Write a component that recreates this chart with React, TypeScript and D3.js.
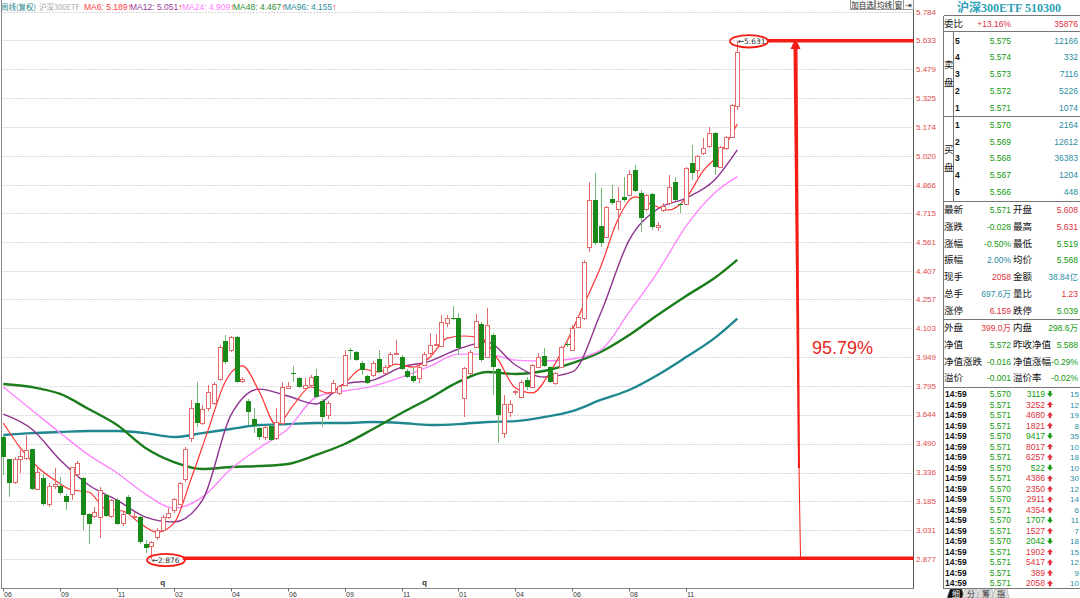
import React, { useRef, useEffect } from 'react';
import * as d3 from 'd3';

// ─── weekly bars (oldest first) ───────────────────────────────────────────────
const OPEN = [
    3.525, 3.408, 3.286, 3.408, 3.414, 3.461, 3.249, 3.307, 3.169, 3.265,
    3.265, 3.212, 3.222, 3.329, 3.307, 3.116, 3.106, 3.100, 3.217, 3.106,
    3.190, 3.068, 3.206, 3.100, 3.100, 2.957, 2.946, 2.994, 3.031, 3.100,
    3.137, 3.169, 3.302, 3.520, 3.706, 3.600, 3.679, 3.706, 3.833, 4.035,
    3.987, 4.057, 3.823, 3.717, 3.621, 3.573, 3.525, 3.584, 3.520, 3.600,
    3.786, 3.865, 3.839, 3.786, 3.802, 3.849, 3.717, 3.642, 3.764, 3.759,
    3.802, 3.987, 3.977, 3.918, 3.849, 3.855, 3.940, 3.865, 3.908, 3.966,
    3.950, 3.876, 3.849, 3.839, 3.908, 3.972, 4.014, 4.009, 4.131, 4.158,
    4.158, 3.733, 3.865, 4.004, 4.126, 3.950, 4.067, 3.887, 3.547, 3.658,
    3.764, 3.738, 3.828, 3.791, 3.897, 3.956, 3.897, 3.812, 3.897, 4.019,
    3.987, 4.110, 4.158, 4.535, 4.785, 4.646, 4.588, 4.790, 4.737, 4.801,
    4.811, 4.944, 4.822, 4.737, 4.817, 4.641, 4.732, 4.769, 4.880, 4.763,
    4.763, 4.981, 4.944, 5.034, 5.072, 5.141, 4.960, 5.061, 5.120, 5.284,
];
const HIGH = [
    3.531, 3.410, 3.419, 3.456, 3.536, 3.464, 3.366, 3.329, 3.281, 3.361,
    3.313, 3.222, 3.368, 3.398, 3.313, 3.121, 3.153, 3.260, 3.222, 3.196,
    3.201, 3.127, 3.217, 3.127, 3.106, 2.978, 2.973, 3.042, 3.111, 3.148,
    3.201, 3.286, 3.472, 3.722, 3.818, 3.695, 3.802, 3.818, 4.014, 4.067,
    4.062, 4.060, 3.844, 3.727, 3.679, 3.578, 3.584, 3.589, 3.679, 3.818,
    3.818, 3.903, 3.844, 3.839, 3.855, 3.887, 3.727, 3.717, 3.828, 3.802,
    3.987, 3.998, 3.982, 3.929, 3.855, 3.929, 3.987, 3.908, 3.977, 4.041,
    3.961, 3.887, 3.897, 3.908, 3.977, 4.078, 4.073, 4.173, 4.173, 4.221,
    4.184, 3.895, 3.987, 4.179, 4.136, 4.211, 4.078, 3.890, 3.748, 3.722,
    3.775, 3.828, 3.844, 3.913, 3.972, 3.998, 3.903, 3.871, 4.009, 4.030,
    4.120, 4.168, 4.466, 4.880, 4.928, 4.848, 4.753, 4.864, 4.854, 4.907,
    4.944, 4.971, 4.838, 4.817, 4.820, 4.668, 4.769, 4.918, 4.907, 4.769,
    4.960, 5.077, 5.024, 5.114, 5.173, 5.144, 5.072, 5.125, 5.295, 5.631,
];
const LOW = [
    3.323, 3.206, 3.276, 3.334, 3.403, 3.244, 3.242, 3.159, 3.153, 3.249,
    3.217, 3.137, 3.190, 3.313, 3.031, 2.957, 3.095, 2.989, 3.100, 3.095,
    3.058, 3.052, 3.111, 3.095, 2.957, 2.909, 2.876, 2.978, 3.020, 3.090,
    3.121, 3.164, 3.286, 3.499, 3.578, 3.589, 3.663, 3.695, 3.823, 3.913,
    3.977, 3.812, 3.812, 3.589, 3.547, 3.509, 3.509, 3.504, 3.509, 3.589,
    3.780, 3.818, 3.786, 3.780, 3.791, 3.733, 3.578, 3.621, 3.754, 3.748,
    3.796, 3.934, 3.929, 3.855, 3.807, 3.844, 3.865, 3.860, 3.902, 3.961,
    3.881, 3.839, 3.812, 3.812, 3.902, 3.961, 4.009, 4.004, 4.110, 4.147,
    3.961, 3.632, 3.855, 3.998, 3.924, 3.945, 3.748, 3.493, 3.520, 3.632,
    3.748, 3.733, 3.775, 3.786, 3.892, 3.897, 3.812, 3.802, 3.892, 4.004,
    3.982, 4.105, 4.147, 4.508, 4.546, 4.535, 4.583, 4.758, 4.625, 4.774,
    4.806, 4.827, 4.615, 4.726, 4.625, 4.620, 4.721, 4.758, 4.779, 4.716,
    4.758, 4.891, 4.902, 5.024, 5.061, 4.918, 4.955, 5.050, 5.114, 5.263,
];
const CLOSE = [
    3.419, 3.281, 3.408, 3.424, 3.456, 3.249, 3.339, 3.169, 3.265, 3.276,
    3.228, 3.180, 3.366, 3.387, 3.111, 3.063, 3.127, 3.244, 3.106, 3.190,
    3.063, 3.116, 3.116, 3.106, 2.967, 2.935, 2.967, 3.031, 3.100, 3.121,
    3.196, 3.281, 3.461, 3.679, 3.600, 3.674, 3.764, 3.807, 4.004, 3.924,
    4.057, 3.818, 3.833, 3.658, 3.584, 3.525, 3.578, 3.509, 3.605, 3.791,
    3.796, 3.860, 3.791, 3.802, 3.844, 3.738, 3.632, 3.706, 3.812, 3.796,
    3.961, 3.982, 3.934, 3.881, 3.812, 3.918, 3.871, 3.897, 3.966, 3.972,
    3.887, 3.844, 3.823, 3.897, 3.966, 4.014, 4.019, 4.136, 4.158, 4.152,
    3.998, 3.892, 3.977, 4.142, 3.934, 4.120, 3.897, 3.642, 3.701, 3.701,
    3.770, 3.818, 3.791, 3.908, 3.950, 3.903, 3.818, 3.865, 4.004, 4.014,
    4.105, 4.163, 4.455, 4.785, 4.556, 4.556, 4.747, 4.769, 4.779, 4.785,
    4.923, 4.833, 4.689, 4.811, 4.641, 4.652, 4.753, 4.854, 4.785, 4.758,
    4.955, 4.928, 5.018, 5.061, 5.141, 4.960, 5.066, 5.120, 5.290, 5.571,
];

// moving averages at the listed weeks
const MA_WEEKS = [0, 5, 10, 15, 20, 25, 30, 35, 40, 45, 50, 55, 60, 65, 70, 75, 80, 85, 90, 95, 100, 105, 110, 115, 120, 125, 129];
const MA12 = [3.647, 3.568, 3.403, 3.270, 3.190, 3.100, 3.074, 3.190, 3.642, 3.780, 3.743, 3.701, 3.807, 3.828, 3.897, 3.929, 3.993, 4.030, 3.908, 3.844, 3.871, 4.184, 4.572, 4.737, 4.795, 4.891, 5.051];
const MA24 = [3.791, 3.669, 3.547, 3.430, 3.334, 3.222, 3.148, 3.206, 3.355, 3.467, 3.568, 3.738, 3.770, 3.796, 3.844, 3.902, 3.966, 3.966, 3.934, 3.929, 3.940, 3.987, 4.190, 4.402, 4.646, 4.822, 4.909];
const MA48 = [3.807, 3.791, 3.754, 3.674, 3.589, 3.467, 3.392, 3.355, 3.366, 3.371, 3.382, 3.430, 3.488, 3.568, 3.653, 3.733, 3.818, 3.871, 3.860, 3.876, 3.918, 3.977, 4.067, 4.174, 4.275, 4.370, 4.467];
const MA96 = [3.536, 3.546, 3.552, 3.557, 3.557, 3.546, 3.525, 3.546, 3.568, 3.589, 3.594, 3.600, 3.600, 3.605, 3.600, 3.589, 3.594, 3.605, 3.610, 3.631, 3.663, 3.722, 3.775, 3.855, 3.950, 4.051, 4.155];
const MA6_WEEKS = [0, 3, 6, 9, 12, 15, 18, 21, 24, 27, 30, 33, 36, 39, 42, 45, 48, 51, 54, 57, 60, 63, 66, 69, 72, 75, 78, 81, 84, 87, 90, 93, 96, 99, 102, 105, 108, 111, 114, 117, 120, 123, 126, 129];
const MA6 = [3.600, 3.467, 3.366, 3.297, 3.244, 3.233, 3.143, 3.132, 3.068, 3.020, 3.068, 3.302, 3.562, 3.818, 3.903, 3.766, 3.589, 3.695, 3.791, 3.759, 3.812, 3.887, 3.871, 3.913, 3.897, 3.950, 4.051, 4.062, 4.051, 3.935, 3.786, 3.760, 3.865, 4.030, 4.227, 4.430, 4.680, 4.801, 4.760, 4.732, 4.795, 4.940, 5.034, 5.189];

const Y_TICKS = [2.877, 3.031, 3.185, 3.336, 3.490, 3.644, 3.795, 3.949, 4.103, 4.257, 4.407, 4.561, 4.715, 4.866, 5.020, 5.174, 5.325, 5.479, 5.633, 5.784];
const X_TICK_WEEKS = [0, 10, 20, 30, 40, 50, 60, 70, 80, 90, 100, 110, 120];
const X_TICK_LABELS = ['06', '09', '11', '02', '04', '06', '09', '11', '01', '04', '06', '08', '11'];
const Q_WEEKS = [28, 74];

// ─── quote panel ──────────────────────────────────────────────────────────────
const SELL_LEVELS = ['5', '4', '3', '2', '1'];
const SELL_PRICES = ['5.575', '5.574', '5.573', '5.572', '5.571'];
const SELL_VOLUMES = ['12166', '332', '7116', '5226', '1074'];
const BUY_LEVELS = ['1', '2', '3', '4', '5'];
const BUY_PRICES = ['5.570', '5.569', '5.568', '5.567', '5.566'];
const BUY_VOLUMES = ['2164', '12612', '36383', '1204', '448'];

const QUOTE_LEFT = ['最新', '涨跌', '涨幅', '振幅', '现手', '总手', '涨停'];
const QUOTE_LEFT_VALUES = ['5.571', '-0.028', '-0.50%', '2.00%', '2058', '697.6万', '6.159'];
const QUOTE_LEFT_TONES = ['g', 'g', 'g', 't', 'r', 't', 'r'];
const QUOTE_RIGHT = ['开盘', '最高', '最低', '均价', '金额', '量比', '跌停'];
const QUOTE_RIGHT_VALUES = ['5.608', '5.631', '5.519', '5.568', '38.84亿', '1.23', '5.039'];
const QUOTE_RIGHT_TONES = ['r', 'r', 'g', 'g', 't', 'r', 'g'];

const NAV_LEFT = ['外盘', '净值', '净值涨跌', '溢价'];
const NAV_LEFT_VALUES = ['399.0万', '5.572', '-0.016', '-0.001'];
const NAV_LEFT_TONES = ['r', 'g', 'g', 'g'];
const NAV_RIGHT = ['内盘', '昨收净值', '净值涨幅', '溢价率'];
const NAV_RIGHT_VALUES = ['298.6万', '5.588', '-0.29%', '-0.02%'];
const NAV_RIGHT_TONES = ['g', 'g', 'g', 'g'];

const TRADE_TIME = '14:59';
const TRADE_PRICES = ['5.570', '5.571', '5.571', '5.571', '5.570', '5.571', '5.571', '5.570', '5.571', '5.570', '5.570', '5.571', '5.570', '5.571', '5.570', '5.571', '5.571', '5.571', '5.571'];
const TRADE_VOLUMES = ['3119', '3252', '4680', '1821', '9417', '8017', '6257', '522', '4386', '2350', '2911', '4354', '1707', '1527', '2042', '1902', '5417', '389', '2058'];
const TRADE_SIDES = ['S', 'B', 'B', 'B', 'S', 'B', 'B', 'S', 'B', 'B', 'B', 'B', 'S', 'B', 'S', 'B', 'B', 'B', 'B'];
const TRADE_COUNTS = ['15', '12', '19', '8', '35', '10', '18', '10', '30', '12', '14', '6', '11', '7', '18', '15', '12', '9', '10'];

const LEGEND = [
    { text: 'MA6: 5.189', color: '#ff3c3c' },
    { text: 'MA12: 5.051', color: '#9a3c9a' },
    { text: 'MA24: 4.909', color: '#ff80ff' },
    { text: 'MA48: 4.467', color: '#2e8b2e' },
    { text: 'MA96: 4.155', color: '#2a8f9a' },
];

const NUM = '"Liberation Sans", Arial, "Noto Sans CJK SC", sans-serif';
const CJK = '"Noto Sans CJK SC", sans-serif';
const TONE: Record<string, string> = { g: '#109a10', r: '#e0303c', t: '#2a8ea0', k: '#111' };

const App: React.FC = () => {
    const ref = useRef<SVGSVGElement | null>(null);

    useEffect(() => {
        if (!ref.current) return;

        // ─── 1. Clean-slate ──────────────────────────────────────────────────
        const svg = d3.select(ref.current);
        svg.selectAll('*').remove();

        const W = 1080;
        const H = 598;
        const plotL = 1.5;
        const plotR = 913.5;
        const baseY = 588.5;

        svg.append('rect').attr('width', W).attr('height', H).attr('fill', '#fff');

        // ─── 2. Scales ───────────────────────────────────────────────────────
        const x = d3.scalePoint<number>().domain(d3.range(CLOSE.length)).range([3.3, 737.3]);
        const y = d3.scaleLinear().domain([2.877, 5.784]).range([559, 12]);
        const px = (i: number) => Math.round(x(i) as number) + 0.5;

        // ─── 3. Grid + axes ──────────────────────────────────────────────────
        svg.append('g')
            .selectAll('line')
            .data(Y_TICKS)
            .enter()
            .append('line')
            .attr('x1', plotL)
            .attr('x2', plotR)
            .attr('y1', d => Math.round(y(d)) + 0.5)
            .attr('y2', d => Math.round(y(d)) + 0.5)
            .attr('stroke', '#b0b0b0')
            .attr('stroke-dasharray', '1,2');

        svg.append('g')
            .selectAll('text')
            .data(Y_TICKS)
            .enter()
            .append('text')
            .attr('x', 916)
            .attr('y', d => y(d))
            .attr('dy', '0.35em')
            .style('font-size', '8px')
            .style('font-family', NUM)
            .style('fill', '#e04a4a')
            .text(d => d.toFixed(3));

        const frame = svg.append('g').attr('fill', 'none').attr('shape-rendering', 'crispEdges');
        frame.append('line').attr('x1', plotL).attr('x2', plotL).attr('y1', 0).attr('y2', baseY).attr('stroke', '#888');
        frame.append('line').attr('x1', plotR).attr('x2', plotR).attr('y1', 0).attr('y2', baseY).attr('stroke', '#555');
        frame.append('line').attr('x1', plotL).attr('x2', plotR).attr('y1', baseY).attr('y2', baseY).attr('stroke', '#888');

        const xAxis = svg.append('g');
        X_TICK_WEEKS.forEach((w, k) => {
            xAxis.append('line')
                .attr('x1', px(w)).attr('x2', px(w))
                .attr('y1', baseY).attr('y2', baseY + 3)
                .attr('stroke', '#666');
            xAxis.append('text')
                .attr('x', px(w) + 0.5)
                .attr('y', 596.5)
                .style('font-size', '7px')
                .style('font-family', NUM)
                .style('fill', '#333')
                .text(X_TICK_LABELS[k]);
        });
        Q_WEEKS.forEach(w => {
            xAxis.append('text')
                .attr('x', x(w) as number)
                .attr('y', 585)
                .attr('text-anchor', 'middle')
                .style('font-size', '8px')
                .style('font-weight', 700)
                .style('font-family', NUM)
                .style('fill', '#333')
                .text('q');
        });

        // ─── 4. Moving averages ─────────────────────────────────────────────
        const maLine = (weeks: number[], vals: number[]) =>
            d3.line<number>()
                .x((_, k) => x(weeks[k]) as number)
                .y(v => y(v))
                .curve(d3.curveMonotoneX)(vals);

        const mas = [
            { weeks: MA_WEEKS, vals: MA96, color: '#1f8790', w: 2.4 },
            { weeks: MA_WEEKS, vals: MA48, color: '#1b7d1b', w: 2.4 },
            { weeks: MA_WEEKS, vals: MA24, color: '#ff85ff', w: 1.4 },
            { weeks: MA_WEEKS, vals: MA12, color: '#8e3390', w: 1.4 },
            { weeks: MA6_WEEKS, vals: MA6, color: '#ff3434', w: 1.2 },
        ];
        const maG = svg.append('g').attr('fill', 'none');
        mas.forEach(m => {
            maG.append('path')
                .attr('d', maLine(m.weeks, m.vals) as string)
                .attr('stroke', m.color)
                .attr('stroke-width', m.w)
                .attr('stroke-linejoin', 'round');
        });

        // ─── 5. Candles ─────────────────────────────────────────────────────
        const UP = '#e26a6a';
        const DOWN = '#198a19';
        const DOWN_WICK = '#74bb74';
        const candles = svg.append('g').attr('shape-rendering', 'crispEdges');
        CLOSE.forEach((c, i) => {
            const o = OPEN[i];
            const cx = px(i);
            const top = Math.round(y(Math.max(o, c)));
            const bot = Math.max(top + 1, Math.round(y(Math.min(o, c))));
            const hi = Math.round(y(HIGH[i]));
            const lo = Math.round(y(LOW[i]));
            if (c >= o) {
                candles.append('line').attr('x1', cx).attr('x2', cx).attr('y1', hi).attr('y2', top).attr('stroke', UP);
                candles.append('line').attr('x1', cx).attr('x2', cx).attr('y1', bot).attr('y2', lo).attr('stroke', UP);
                candles.append('rect')
                    .attr('x', cx - 2).attr('y', top + 0.5)
                    .attr('width', 4).attr('height', Math.max(0.5, bot - top - 1 + 0.5))
                    .attr('fill', '#fff').attr('stroke', UP);
            } else {
                candles.append('line').attr('x1', cx).attr('x2', cx).attr('y1', hi).attr('y2', lo).attr('stroke', DOWN_WICK);
                candles.append('rect')
                    .attr('x', cx - 2.5).attr('y', top)
                    .attr('width', 5).attr('height', bot - top)
                    .attr('fill', DOWN);
            }
        });

        // ─── 6. Legend + toolbar ────────────────────────────────────────────
        const legend = svg.append('g').style('font-family', NUM).style('font-size', '8.5px');
        legend.append('text').attr('x', 1).attr('y', 10).style('fill', '#2a8a8a').style('font-family', CJK).style('font-size', '7.5px').text('周线(复权)');
        legend.append('text').attr('x', 39).attr('y', 10).style('fill', '#a8a8a8').style('font-family', CJK).style('font-size', '7.5px').text('沪深300ETF');
        const legendX = [84, 130, 182, 233, 284];
        LEGEND.forEach((l, k) => {
            const t = legend.append('text').attr('x', legendX[k]).attr('y', 10);
            t.append('tspan').style('fill', l.color).text(l.text);
            t.append('tspan').style('fill', '#ff2020').text('↑');
        });

        const tools = [
            { x: 850, w: 24, t: '加自选' },
            { x: 875, w: 18, t: '均线' },
            { x: 893, w: 10, t: '窗' },
            { x: 903, w: 10, t: '⇥' },
        ];
        const tb = svg.append('g');
        tools.forEach(b => {
            tb.append('rect').attr('x', b.x + 0.5).attr('y', -0.5).attr('width', b.w).attr('height', 10)
                .attr('fill', '#fafafa').attr('stroke', '#999').attr('shape-rendering', 'crispEdges');
            tb.append('text').attr('x', b.x + 0.5 + b.w / 2).attr('y', 7.8).attr('text-anchor', 'middle')
                .style('font-size', '7.5px').style('font-family', CJK).style('fill', '#222').text(b.t);
        });

        // ─── 7. Range annotation ────────────────────────────────────────────
        const hiV = d3.max(HIGH) as number;
        const loV = d3.min(LOW) as number;
        const iHi = HIGH.indexOf(hiV);
        const iLo = LOW.indexOf(loV);
        const red = '#f41c14';
        const ann = svg.append('g');

        const yHi = y(hiV);
        const yLo = y(loV) - 1;
        ann.append('line').attr('x1', 767).attr('x2', plotR).attr('y1', yHi).attr('y2', yHi).attr('stroke', red).attr('stroke-width', 3.5);
        ann.append('line').attr('x1', 183).attr('x2', plotR).attr('y1', yLo).attr('y2', yLo).attr('stroke', red).attr('stroke-width', 3.5);

        ann.append('path')
            .attr('d', `M793.5,48 L797.5,48 L800,468 L798,468 Z`)
            .attr('fill', red);
        ann.append('path')
            .attr('d', `M795.5,38.5 L790.5,49 L800.5,49 Z`)
            .attr('fill', red);
        ann.append('line').attr('x1', 799).attr('x2', 800.5).attr('y1', 466).attr('y2', yLo).attr('stroke', red).attr('stroke-width', 1);

        ann.append('text')
            .attr('x', 812).attr('y', 354)
            .style('font-size', '18px').style('font-family', NUM).style('fill', '#e8261c')
            .text(`${(((hiV - loV) / loV) * 100).toFixed(2)}%`);

        const marker = (i: number, v: number, cx: number, cy: number) => {
            ann.append('ellipse').attr('cx', cx).attr('cy', cy).attr('rx', 19).attr('ry', 6.2)
                .attr('fill', 'none').attr('stroke', red).attr('stroke-width', 1.8);
            ann.append('text')
                .attr('x', (x(i) as number) + 0.5).attr('y', cy + 2.6)
                .style('font-size', '7.5px').style('font-family', '"DejaVu Sans", sans-serif').style('fill', '#333')
                .text(`←${v.toFixed(3)}`);
        };
        marker(iHi, hiV, 749, yHi + 0.5);
        marker(iLo, loV, 166, 560);

        // ─── 8. Quote panel ─────────────────────────────────────────────────
        const P = svg.append('g');
        const pL = 943.5;
        const hline = (yy: number) =>
            P.append('line').attr('x1', pL).attr('x2', W).attr('y1', yy).attr('y2', yy)
                .attr('stroke', '#777').attr('shape-rendering', 'crispEdges');
        const put = (
            xx: number, yy: number, s: string, color: string,
            anchor = 'start', family = NUM, size = 8.5, weight: number | string = 400
        ) =>
            P.append('text').attr('x', xx).attr('y', yy + 3).attr('text-anchor', anchor)
                .style('font-size', `${size}px`).style('font-family', family)
                .style('font-weight', weight).style('fill', color).text(s);

        P.append('text').attr('x', 1009).attr('y', 11.5).attr('text-anchor', 'middle')
            .style('font-size', '12px').style('font-weight', 700)
            .style('font-family', '"Liberation Serif", "Noto Sans CJK SC", serif')
            .style('fill', '#2e9fb6').text('沪深300ETF 510300');

        [15.5, 31.5, 116.5, 201.5, 319.5, 387.5, 588.5].forEach(hline);
        P.append('line').attr('x1', pL).attr('x2', pL).attr('y1', 15.5).attr('y2', 588.5).attr('stroke', '#777').attr('shape-rendering', 'crispEdges');
        P.append('line').attr('x1', 953.5).attr('x2', 953.5).attr('y1', 31.5).attr('y2', 201.5).attr('stroke', '#777').attr('shape-rendering', 'crispEdges');

        put(944, 23.5, '委比', TONE.k, 'start', CJK, 9.5);
        put(1011, 23.5, '+13.16%', TONE.r, 'end');
        put(1078, 23.5, '35876', TONE.r, 'end');

        const bookRow = (yy: number, lvl: string, pr: string, vol: string) => {
            put(955, yy, lvl, TONE.k, 'start', NUM, 8.5, 700);
            put(1011, yy, pr, TONE.g, 'end');
            put(1078, yy, vol, TONE.t, 'end');
        };
        SELL_LEVELS.forEach((l, k) => bookRow(40.7 + k * 16.7, l, SELL_PRICES[k], SELL_VOLUMES[k]));
        BUY_LEVELS.forEach((l, k) => bookRow(125 + k * 16.7, l, BUY_PRICES[k], BUY_VOLUMES[k]));
        put(944, 65, '卖', TONE.k, 'start', CJK, 9.5);
        put(944, 83, '盘', TONE.k, 'start', CJK, 9.5);
        put(944, 150, '买', TONE.k, 'start', CJK, 9.5);
        put(944, 168, '盘', TONE.k, 'start', CJK, 9.5);

        QUOTE_LEFT.forEach((lab, k) => {
            const yy = 210 + k * 16.8;
            put(944, yy, lab, TONE.k, 'start', CJK, 9.5);
            put(1011, yy, QUOTE_LEFT_VALUES[k], TONE[QUOTE_LEFT_TONES[k]], 'end');
            put(1013, yy, QUOTE_RIGHT[k], TONE.k, 'start', CJK, 9.5);
            put(1078, yy, QUOTE_RIGHT_VALUES[k], TONE[QUOTE_RIGHT_TONES[k]], 'end');
        });
        NAV_LEFT.forEach((lab, k) => {
            const yy = 328.3 + k * 16.7;
            put(944, yy, lab, TONE.k, 'start', CJK, 9.5);
            put(1011, yy, NAV_LEFT_VALUES[k], TONE[NAV_LEFT_TONES[k]], 'end');
            put(1013, yy, NAV_RIGHT[k], TONE.k, 'start', CJK, 9.5);
            put(1078, yy, NAV_RIGHT_VALUES[k], TONE[NAV_RIGHT_TONES[k]], 'end');
        });

        TRADE_PRICES.forEach((pr, k) => {
            const yy = 394 + k * 10.52;
            const buy = TRADE_SIDES[k] === 'B';
            const col = buy ? TONE.r : TONE.g;
            put(945, yy, TRADE_TIME, TONE.k, 'start', NUM, 8.5, 700);
            put(1011, yy, pr, TONE.g, 'end');
            put(1045, yy, TRADE_VOLUMES[k], col, 'end');
            const ax = 1050;
            const d = buy
                ? `M${ax - 3},${yy + 0.5} L${ax},${yy - 3} L${ax + 3},${yy + 0.5} L${ax + 1.2},${yy + 0.5} L${ax + 1.2},${yy + 3} L${ax - 1.2},${yy + 3} L${ax - 1.2},${yy + 0.5} Z`
                : `M${ax - 3},${yy - 0.5} L${ax},${yy + 3} L${ax + 3},${yy - 0.5} L${ax + 1.2},${yy - 0.5} L${ax + 1.2},${yy - 3} L${ax - 1.2},${yy - 3} L${ax - 1.2},${yy - 0.5} Z`;
            P.append('path').attr('d', d).attr('fill', col);
            put(1079, yy, TRADE_COUNTS[k], TONE.t, 'end', NUM, 8);
        });

        // bottom tabs
        const tabs = ['细', '分', '筹', '指'];
        tabs.forEach((t, k) => {
            const tx = 947 + k * 15;
            P.append('path')
                .attr('d', `M${tx},598 L${tx + 3},589 L${tx + 15},589 L${tx + 17},598 Z`)
                .attr('fill', k === 0 ? '#111' : '#dcdcdc')
                .attr('stroke', '#999').attr('stroke-width', 0.5);
            P.append('text').attr('x', tx + 9).attr('y', 597).attr('text-anchor', 'middle')
                .style('font-size', '8px').style('font-family', CJK)
                .style('fill', k === 0 ? '#fff' : '#333').text(t);
        });
    }, []);

    return (
        <>
            <style>{'body{margin:0}'}</style>
            <svg ref={ref} width={1080} height={598} style={{ display: 'block' }} />
        </>
    );
};

export default App;
